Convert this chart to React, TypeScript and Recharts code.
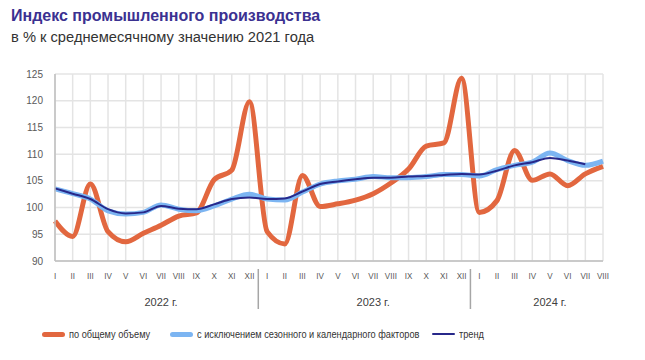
import { CartesianGrid, Line, LineChart, XAxis, YAxis } from "recharts";

const months = [
  "I", "II", "III", "IV", "V", "VI", "VII", "VIII", "IX", "X", "XI", "XII",
  "I", "II", "III", "IV", "V", "VI", "VII", "VIII", "IX", "X", "XI", "XII",
  "I", "II", "III", "IV", "V", "VI", "VII", "VIII",
];
const years = [
  2022, 2022, 2022, 2022, 2022, 2022, 2022, 2022, 2022, 2022, 2022, 2022,
  2023, 2023, 2023, 2023, 2023, 2023, 2023, 2023, 2023, 2023, 2023, 2023,
  2024, 2024, 2024, 2024, 2024, 2024, 2024, 2024,
];
const total = [
  97.5, 94.6, 104.4, 95.5, 93.6, 95.2, 96.7, 98.4, 99.0, 105.2, 107.0, 119.8,
  95.5, 93.2, 106.0, 100.2, 100.7, 101.4, 102.6, 104.6, 107.2, 111.5, 112.1, 124.2,
  99.1, 101.3, 110.7, 105.1, 106.3, 104.1, 106.3, 107.7,
];
const adjusted = [
  103.5, 102.6, 101.6, 99.4, 98.8, 99.1, 100.5, 99.7, 99.4, 100.3, 101.6, 102.5,
  101.6, 101.4, 102.9, 104.4, 105.0, 105.3, 105.8, 105.6, 105.6, 105.8, 106.2, 106.2,
  105.9, 107.1, 107.9, 108.5, 110.2, 108.8, 107.9, 108.7,
];
const trend = [
  103.6, 102.6, 101.6, 99.7, 98.9, 99.1, 100.3, 99.8, 99.7, 100.6, 101.6, 101.9,
  101.6, 101.7, 103.0, 104.4, 104.9, 105.3, 105.6, 105.6, 105.8, 105.9, 106.1, 106.3,
  106.2, 106.9, 107.9, 108.5, 109.3, 108.8, 108.1, null,
];
const yTicks = [90, 95, 100, 105, 110, 115, 120, 125];
// year caption sits under this month index
const yearLabels = [
  { year: "2022 г.", at: 6 },
  { year: "2023 г.", at: 18 },
  { year: "2024 г.", at: 28 },
];

const data = months.map((m, i) => ({
  key: i,
  month: m,
  year: years[i],
  total: total[i],
  adjusted: adjusted[i],
  trend: trend[i],
}));

const W = 645;
const H = 360;
const xAxisHeight = 99;
const margin = { top: 74, right: 42, bottom: 0, left: 0 };
const yAxisWidth = 55;
const step = (W - margin.left - margin.right - yAxisWidth) / (months.length - 1);
const font = "'Liberation Sans', Arial, sans-serif";

const MonthTick = (props: any) => {
  const { x, y, payload } = props;
  const i = payload.value as number;
  const isYearStart = i > 0 && years[i] !== years[i - 1];
  const yl = yearLabels.find((d) => d.at === i);
  return (
    <g>
      {/* condensed month numerals */}
      <text
        transform={`translate(${x},${y + 10}) scale(0.85,1)`}
        textAnchor="middle"
        fontSize={9.5}
        fill="#595959"
        fontFamily={font}
      >
        {months[i]}
      </text>
      {isYearStart && (
        <line x1={x - step / 2} x2={x - step / 2} y1={y} y2={y + 40} stroke="#a6a6a6" strokeWidth={1.5} />
      )}
      {yl && (
        <text x={x} y={y + 37} textAnchor="middle" fontSize={11} fill="#404040" fontFamily={font}>
          {yl.year}
        </text>
      )}
    </g>
  );
};

const legend = [
  { name: "по общему объему", color: "#e2673f", w: 5, left: 42 },
  { name: "с исключением сезонного и календарного факторов", color: "#7cb5f2", w: 5, left: 170 },
  { name: "тренд", color: "#27288a", w: 2, left: 432 },
];

export default function App() {
  return (
    <div style={{ position: "absolute", left: 0, top: 0, width: W, height: H, background: "#fff", fontFamily: font }}>
      <div style={{ position: "absolute", left: 11, top: 7, fontSize: 16, fontWeight: "bold", color: "#3b3191" }}>
        Индекс промышленного производства
      </div>
      <div style={{ position: "absolute", left: 11, top: 29, fontSize: 14.7, color: "#333" }}>
        в % к среднемесячному значению 2021 года
      </div>
      <LineChart width={W} height={H} data={data} margin={margin}>
        <CartesianGrid stroke="#e4e4e4" strokeWidth={1.5} />
        <XAxis
          dataKey="key"
          type="category"
          interval={0}
          tickLine={false}
          axisLine={{ stroke: "#bfbfbf", strokeWidth: 1.5 }}
          tick={<MonthTick />}
          height={xAxisHeight}
        />
        <YAxis
          domain={[90, 125]}
          ticks={yTicks}
          interval={0}
          width={yAxisWidth}
          tickLine={false}
          axisLine={{ stroke: "#bfbfbf", strokeWidth: 1.5 }}
          tick={{ fontSize: 10, fill: "#595959", fontFamily: font }}
          tickMargin={6}
        />
        <Line dataKey="total" type="monotone" stroke="#e2673f" strokeWidth={5} dot={false} isAnimationActive={false} />
        <Line dataKey="adjusted" type="monotone" stroke="#7cb5f2" strokeWidth={5} dot={false} isAnimationActive={false} />
        <Line dataKey="trend" type="monotone" stroke="#27288a" strokeWidth={2} dot={false} isAnimationActive={false} />
      </LineChart>
      <div style={{ position: "absolute", left: 0, top: 328, width: W, fontSize: 11.5, color: "#333" }}>
        {legend.map((l) => (
          <div
            key={l.name}
            style={{ position: "absolute", left: l.left, display: "flex", alignItems: "center", whiteSpace: "nowrap" }}
          >
            <span style={{ display: "inline-block", width: 23, height: l.w, borderRadius: 3, background: l.color, marginRight: 4 }} />
            <span style={{ display: "inline-block", transform: "scaleX(0.8)", transformOrigin: "left center" }}>{l.name}</span>
          </div>
        ))}
      </div>
    </div>
  );
}
